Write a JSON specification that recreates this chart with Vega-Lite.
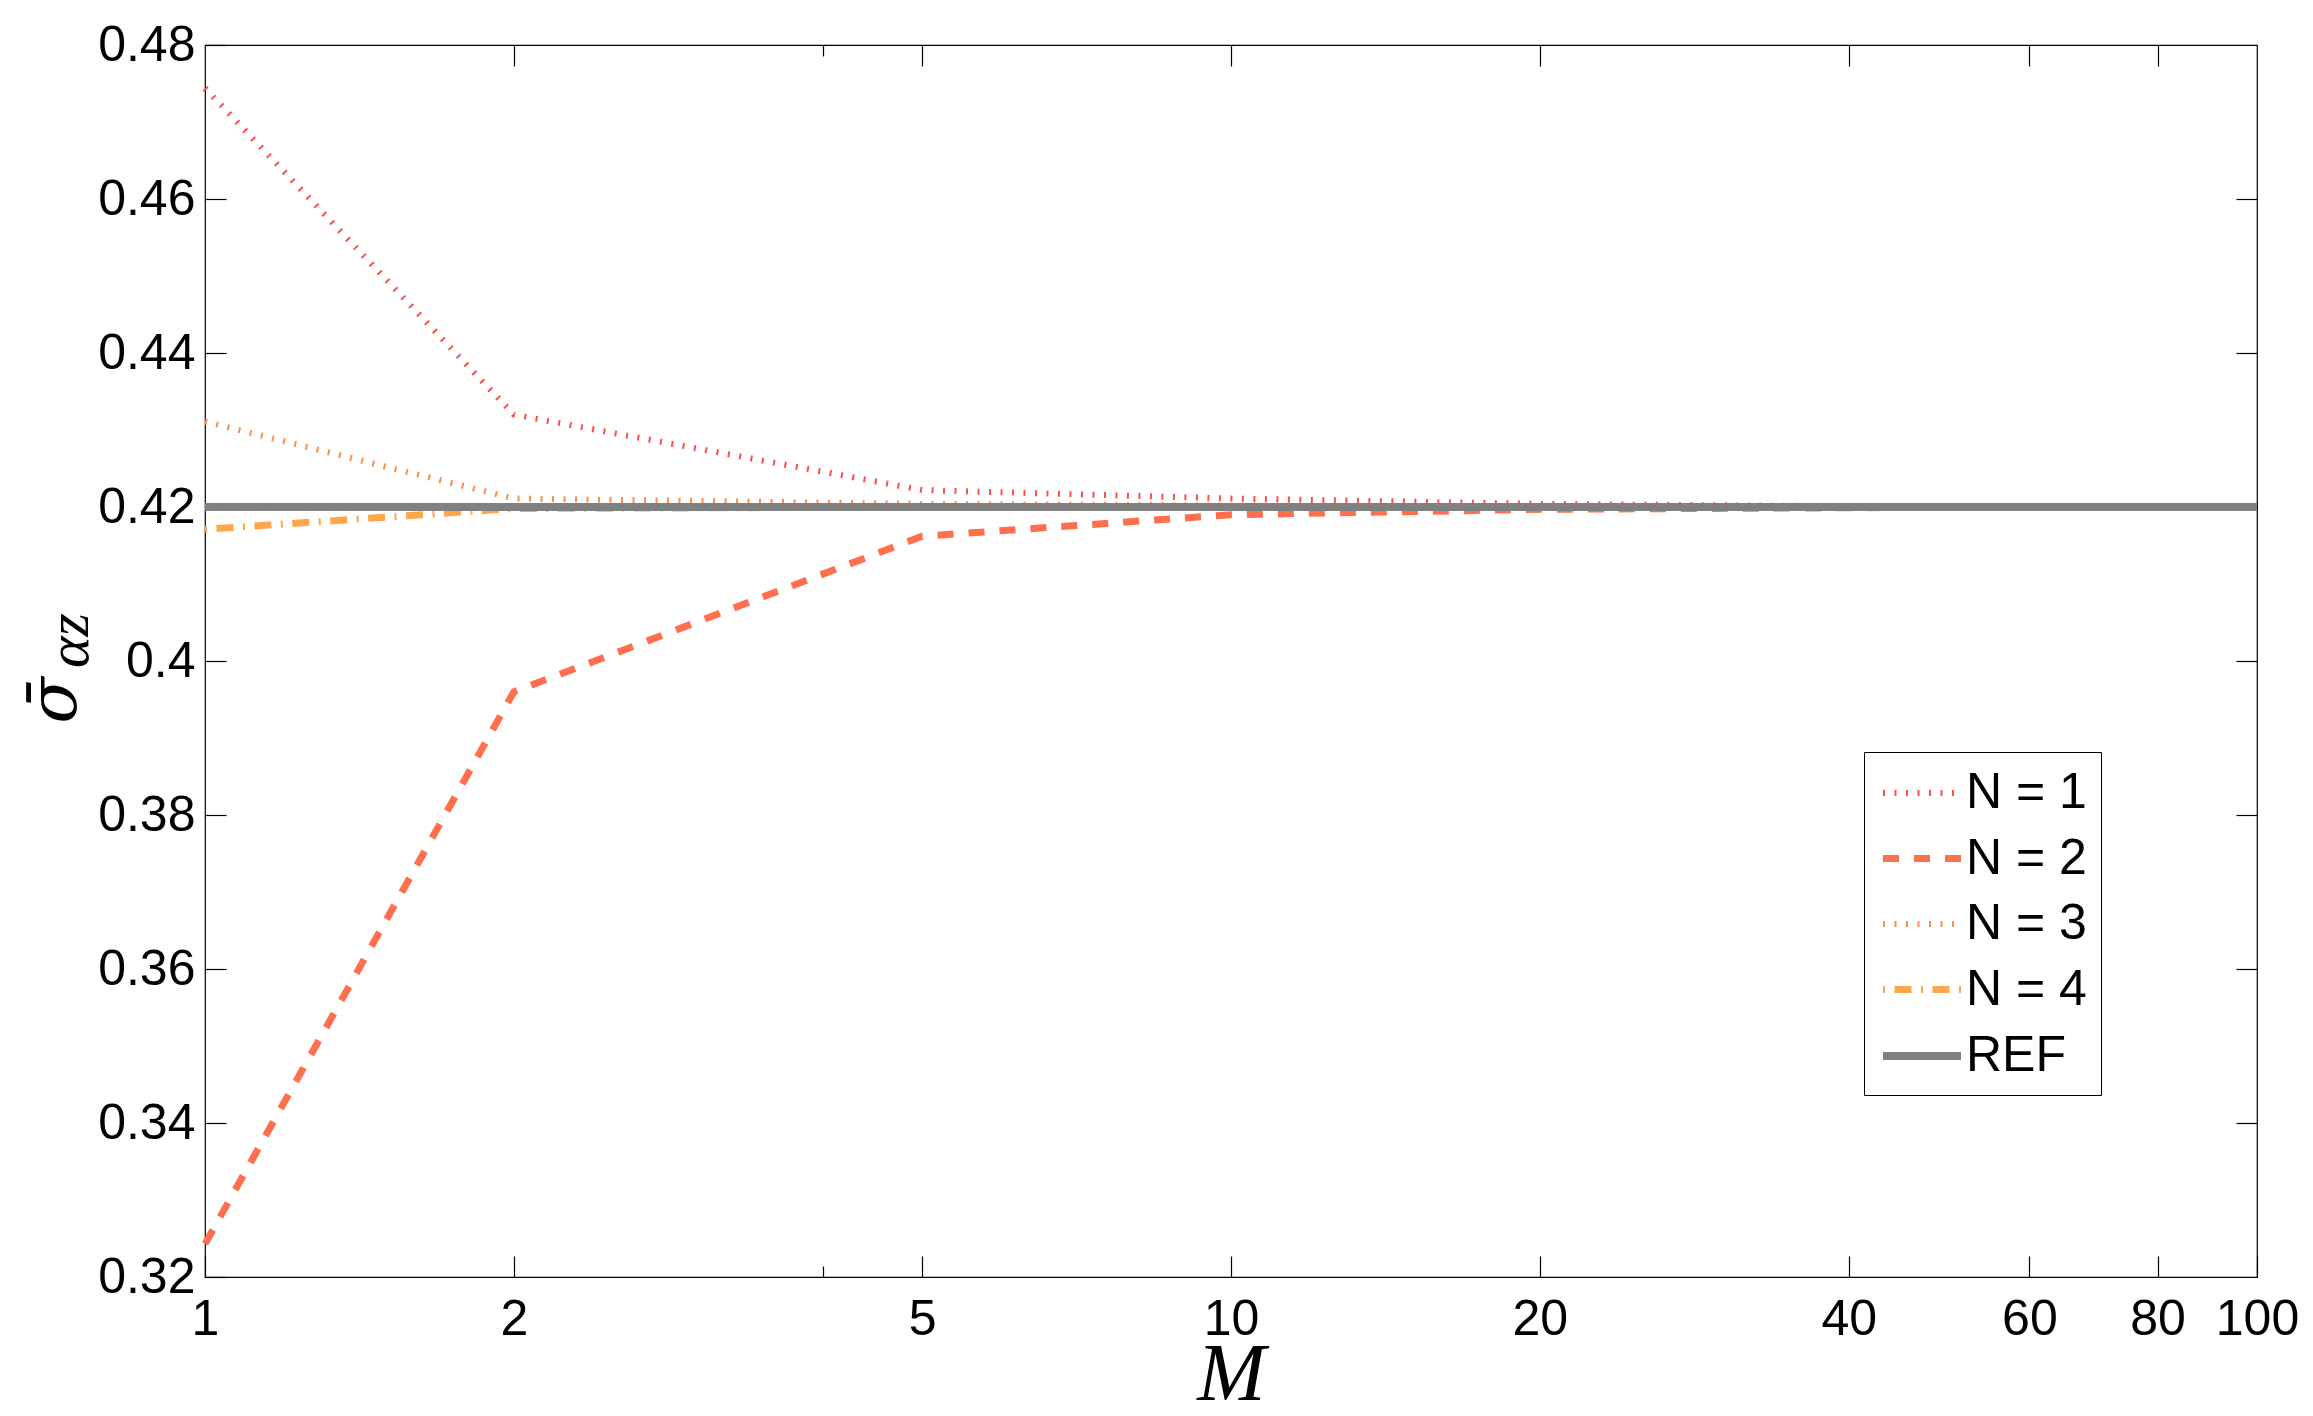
{
  "$schema": "https://vega.github.io/schema/vega-lite/v6.json",
  "width": 2052,
  "height": 1232,
  "autosize": {"type": "none"},
  "padding": {"left": 205, "top": 45, "right": 56, "bottom": 139},
  "background": "white",
  "config": {
    "view": {"stroke": "black", "strokeWidth": 1.2},
    "axis": {
      "grid": false,
      "domain": false,
      "labelFont": "Liberation Sans",
      "labelFontSize": 50,
      "labelColor": "black",
      "tickColor": "black",
      "tickWidth": 1.2,
      "titleColor": "black"
    }
  },
  "datasets": {
    "lines": [
      {"series": "N = 1", "M": 1, "v": 0.4744},
      {"series": "N = 1", "M": 2, "v": 0.4320},
      {"series": "N = 1", "M": 5, "v": 0.4222},
      {"series": "N = 1", "M": 10, "v": 0.4211},
      {"series": "N = 1", "M": 20, "v": 0.4204},
      {"series": "N = 1", "M": 40, "v": 0.4201},
      {"series": "N = 1", "M": 60, "v": 0.4200},
      {"series": "N = 1", "M": 80, "v": 0.4200},
      {"series": "N = 1", "M": 100, "v": 0.4200},
      {"series": "N = 2", "M": 1, "v": 0.3243},
      {"series": "N = 2", "M": 2, "v": 0.3960},
      {"series": "N = 2", "M": 5, "v": 0.4162},
      {"series": "N = 2", "M": 10, "v": 0.4190},
      {"series": "N = 2", "M": 20, "v": 0.4197},
      {"series": "N = 2", "M": 40, "v": 0.4199},
      {"series": "N = 2", "M": 60, "v": 0.4200},
      {"series": "N = 2", "M": 80, "v": 0.4200},
      {"series": "N = 2", "M": 100, "v": 0.4200},
      {"series": "N = 3", "M": 1, "v": 0.4311},
      {"series": "N = 3", "M": 2, "v": 0.4211},
      {"series": "N = 3", "M": 5, "v": 0.4204},
      {"series": "N = 3", "M": 10, "v": 0.4202},
      {"series": "N = 3", "M": 20, "v": 0.4201},
      {"series": "N = 3", "M": 40, "v": 0.4200},
      {"series": "N = 3", "M": 60, "v": 0.4200},
      {"series": "N = 3", "M": 80, "v": 0.4200},
      {"series": "N = 3", "M": 100, "v": 0.4200},
      {"series": "N = 4", "M": 1, "v": 0.4171},
      {"series": "N = 4", "M": 2, "v": 0.4198},
      {"series": "N = 4", "M": 5, "v": 0.4200},
      {"series": "N = 4", "M": 10, "v": 0.4200},
      {"series": "N = 4", "M": 20, "v": 0.4200},
      {"series": "N = 4", "M": 40, "v": 0.4200},
      {"series": "N = 4", "M": 60, "v": 0.4200},
      {"series": "N = 4", "M": 80, "v": 0.4200},
      {"series": "N = 4", "M": 100, "v": 0.4200},
      {"series": "REF", "M": 1, "v": 0.42},
      {"series": "REF", "M": 100, "v": 0.42}
    ],
    "anchor": [{"M": 1, "v": 0.42}]
  },
  "layer": [
    {
      "data": {"name": "lines"},
      "mark": {"type": "line", "strokeCap": "butt"},
      "encoding": {
        "x": {
          "field": "M",
          "type": "quantitative",
          "scale": {"type": "log", "domain": [1, 100], "nice": false},
          "axis": {
            "orient": "bottom",
            "values": [1, 2, 4, 5, 10, 20, 40, 60, 80, 100],
            "format": "d",
            "labelExpr": "datum.value == 4 ? '' : datum.label",
            "tickSize": {"condition": {"test": "datum.value == 4", "value": -11}, "value": -21},
            "labelPadding": 38,
            "labelFlush": false,
            "labelOverlap": false,
            "labelBound": false,
            "title": "M",
            "titleFont": "Liberation Serif",
            "titleFontStyle": "italic",
            "titleFontWeight": "normal",
            "titleFontSize": 82,
            "titleX": 1026,
            "titleY": 122,
            "titleBaseline": "alphabetic",
            "titleAlign": "center"
          }
        },
        "y": {
          "field": "v",
          "type": "quantitative",
          "scale": {"domain": [0.32, 0.48], "nice": false, "zero": false},
          "axis": {
            "orient": "left",
            "values": [0.32, 0.34, 0.36, 0.38, 0.4, 0.42, 0.44, 0.46, 0.48],
            "format": ".2~f",
            "tickSize": -21,
            "labelPadding": 31,
            "labelBaseline": "middle",
            "labelFlush": false,
            "labelOverlap": false,
            "labelBound": false,
            "title": "σ̄",
            "titleFont": "DejaVu Serif",
            "titleFontStyle": "italic",
            "titleFontWeight": "normal",
            "titleFontSize": 68,
            "titleAngle": 270,
            "titleX": -130,
            "titleY": 655,
            "titleBaseline": "alphabetic",
            "titleAlign": "center"
          }
        },
        "color": {
          "field": "series",
          "type": "nominal",
          "scale": {
            "domain": ["N = 1", "N = 2", "N = 3", "N = 4", "REF"],
            "range": ["#FF4D4D", "#FF6E4D", "#FF8C4D", "#FFA64D", "#808080"]
          },
          "legend": {
            "title": null,
            "orient": "none",
            "legendX": 1659,
            "legendY": 707,
            "direction": "vertical",
            "padding": 14,
            "fillColor": "white",
            "strokeColor": "black",
            "symbolType": "M-1.625,0H1.625",
            "symbolSize": 2304,
            "symbolOffset": 16,
            "labelOffset": 16,
            "labelFont": "Liberation Sans",
            "labelFontSize": 50,
            "labelColor": "black",
            "labelLimit": 400,
            "rowPadding": 13
          }
        },
        "strokeDash": {
          "field": "series",
          "type": "nominal",
          "scale": {
            "domain": ["N = 1", "N = 2", "N = 3", "N = 4", "REF"],
            "range": [[2, 9.5], [16, 15], [2, 9.5], [2, 9.5, 17, 9.5], [1, 0]]
          }
        },
        "strokeWidth": {
          "field": "series",
          "type": "nominal",
          "scale": {
            "type": "ordinal",
            "domain": ["N = 1", "N = 2", "N = 3", "N = 4", "REF"],
            "range": [6, 7, 6, 7, 8]
          }
        }
      }
    },
    {
      "data": {"name": "anchor"},
      "mark": {"type": "point", "opacity": 0},
      "encoding": {
        "x": {
          "field": "M",
          "type": "quantitative",
          "axis": {
            "orient": "top",
            "values": [2, 4, 5, 10, 20, 40, 60, 80],
            "labels": false,
            "tickSize": {"condition": {"test": "datum.value == 4", "value": -11}, "value": -21},
            "title": null
          }
        },
        "y": {
          "field": "v",
          "type": "quantitative",
          "axis": {
            "orient": "right",
            "values": [0.34, 0.36, 0.38, 0.4, 0.42, 0.44, 0.46],
            "labels": false,
            "tickSize": -21,
            "title": "αz",
            "titleFont": "Liberation Serif",
            "titleFontStyle": "italic",
            "titleFontWeight": "normal",
            "titleFontSize": 60,
            "titleAngle": 270,
            "titleX": -2170,
            "titleY": 595,
            "titleBaseline": "alphabetic",
            "titleAlign": "center"
          }
        }
      }
    }
  ],
  "resolve": {"axis": {"x": "independent", "y": "independent"}}
}
